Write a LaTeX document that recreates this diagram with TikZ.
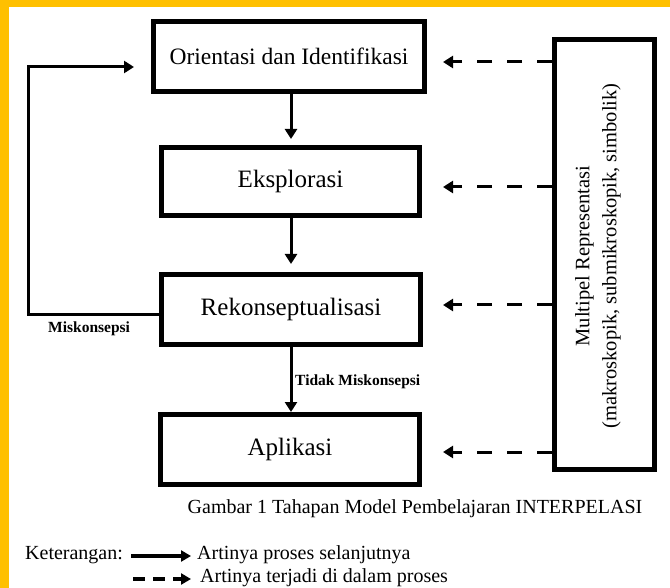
\documentclass[tikz,border=0pt]{standalone}
\usepackage{fontspec}
\setmainfont{Liberation Serif}
\usetikzlibrary{arrows.meta}
\definecolor{frameyellow}{HTML}{FFC000}
\begin{document}
\begin{tikzpicture}[x=1pt,y=-1pt,
  stage/.style={draw,line width=5pt,minimum width=259pt,minimum height=70pt,align=center,inner sep=0pt},
  flow/.style={line width=3pt,-{Triangle[length=10pt,width=12pt]}},
  dflow/.style={line width=3pt,dash pattern=on 15pt off 15pt,-{Triangle[length=10pt,width=12pt]}},
  lab/.style={font=\bfseries\fontsize{15.5}{18}\selectfont,inner sep=0pt},
  legtext/.style={anchor=west,font=\fontsize{20}{23}\selectfont,inner sep=0pt}]
\useasboundingbox (0,0) rectangle (670,588);
\fill[white] (0,0) rectangle (670,588);
\fill[frameyellow] (0,0) rectangle (670,7);
\fill[frameyellow] (0,0) rectangle (9,588);

\node[stage,minimum width=271pt,font=\fontsize{23.5}{27}\selectfont] (b1) at (289,56.5) {Orientasi dan Identifikasi};
\node[stage,minimum width=258pt,minimum height=68pt,font=\fontsize{25}{28}\selectfont] (b2) at (290.5,181.5) {Eksplorasi};
\node[stage,font=\fontsize{25}{28}\selectfont] (b3) at (291,309.5) {Rekonseptualisasi};
\node[stage,font=\fontsize{25}{28}\selectfont] (b4) at (290,449.5) {Aplikasi};

\node[draw,line width=5pt,minimum width=100pt,minimum height=430pt,inner sep=0pt] (mr) at (604.5,254.5) {};
\node[rotate=90,align=center,font=\fontsize{20.5}{27}\selectfont] (mrt) at (598,256) {Multipel Representasi\\(makroskopik, submikroskopik, simbolik)};

\draw[flow,shorten >=6pt] (b1.south -| 291,0) -- (b2.north -| 291,0);
\draw[flow,shorten >=8pt] (b2.south -| 291,0) -- (b3.north -| 291,0);
\draw[flow] (b3.south -| 291,0) -- (b4.north -| 291,0);

\coordinate (fbl) at (28,315);
\coordinate (fbt) at (28,67);
\coordinate (fbe) at (134,67);
\draw[line width=3pt,-{Triangle[length=10pt,width=12pt]}] (b3.west |- fbl) -- (fbl) -- (fbt) -- (fbe);

\node[lab,anchor=west] (mis) at (48,329) {Miskonsepsi};
\node[lab,anchor=west] (tmis) at (295,382) {Tidak Miskonsepsi};

\foreach \y/\n in {62/a,187/b,305/c,452/d}{
  \coordinate (t\n) at (443,\y);
  \draw[dflow] (mr.west |- t\n) -- (t\n);
}

\node[anchor=center,font=\fontsize{20}{23}\selectfont,inner sep=0pt] (cap) at (415,509) {Gambar 1 Tahapan Model Pembelajaran INTERPELASI};

\node[legtext] (ket) at (25,555) {Keterangan:};
\coordinate (l1s) at (131,556); \coordinate (l1e) at (191,556);
\draw[line width=3.5pt,-{Triangle[length=10pt,width=11pt]}] (l1s) -- (l1e);
\node[legtext] (ar1) at (197,555) {Artinya proses selanjutnya};
\coordinate (l2s) at (133,579); \coordinate (l2e) at (191,579);
\draw[line width=3.5pt,dash pattern=on 12pt off 8pt,-{Triangle[length=10pt,width=11pt]}] (l2s) -- (l2e);
\node[legtext] (ar2) at (200,578) {Artinya terjadi di dalam proses};
\end{tikzpicture}
\end{document}
